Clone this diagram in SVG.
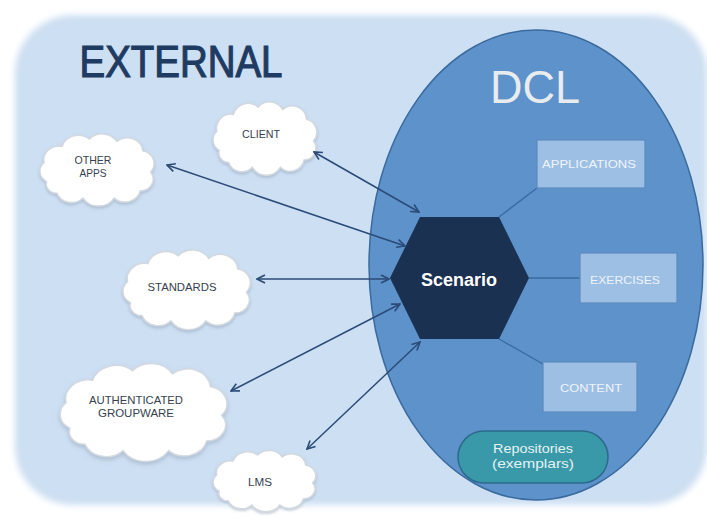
<svg xmlns="http://www.w3.org/2000/svg" width="707" height="516" viewBox="0 0 707 516">
<style>
.cloud{fill:#ffffff;stroke:#d3d9e0;stroke-width:1.5;filter:url(#sh)}
.ct{font-family:"Liberation Sans",Arial,sans-serif;font-size:11px;fill:#36424f;text-anchor:middle}
.box{fill:#9dbfe3;stroke:#5f8cc0;stroke-width:1.3}
.bt{font-family:"Liberation Sans",Arial,sans-serif;font-size:11px;fill:#eef4fb;text-anchor:middle}
.conn{stroke:#2b4b78;stroke-width:1.5;fill:none;marker-start:url(#ah);marker-end:url(#ah)}
.link{stroke:#3a6a9e;stroke-width:1.3;fill:none}
.rt{font-family:"Liberation Sans",Arial,sans-serif;font-size:13px;fill:#e3f3f4;text-anchor:middle}
</style>
<defs>
<filter id="blur" x="-5%" y="-5%" width="110%" height="110%"><feGaussianBlur stdDeviation="3"/></filter>
<filter id="sh" x="-10%" y="-10%" width="120%" height="130%"><feDropShadow dx="0" dy="1.5" stdDeviation="1.2" flood-color="#8a9bb0" flood-opacity="0.5"/></filter>
<marker id="ah" viewBox="0 0 10 10" refX="9" refY="5" markerWidth="10" markerHeight="10" markerUnits="userSpaceOnUse" orient="auto-start-reverse">
<path d="M1,1 L9,5 L1,9" fill="none" stroke="#2b4b78" stroke-width="1.6"/>
</marker>
<path id="cl" vector-effect="non-scaling-stroke" d="M12,42 A10,10 0 0 1 10,26 A12,12 0 0 1 24,12 A13,13 0 0 1 45,6 A13,13 0 0 1 66,8 A12,12 0 0 1 86,16 A11,11 0 0 1 92,34 A10,10 0 0 1 84,50 A12,12 0 0 1 64,56 A14,14 0 0 1 40,56 A12,12 0 0 1 20,52 A8,8 0 0 1 12,42 Z"/>
</defs>
<rect width="707" height="516" fill="#ffffff"/>
<rect x="15" y="15" width="692" height="490" rx="58" fill="#cddff2" filter="url(#blur)"/>
<text x="181" y="77" font-family="Liberation Sans,Arial,sans-serif" font-size="44" fill="#1f3b62" stroke="#1f3b62" stroke-width="1.2" text-anchor="middle" textLength="203" lengthAdjust="spacingAndGlyphs">EXTERNAL</text>

<g id="dcl">
<ellipse cx="536" cy="265" rx="167" ry="235" fill="#5d92cb" stroke="#3a6a9e" stroke-width="1.5"/>
<text x="535" y="103" font-family="Liberation Sans,Arial,sans-serif" font-size="46" fill="#e9ecef" text-anchor="middle" textLength="90" lengthAdjust="spacingAndGlyphs">DCL</text>
</g>

<g id="links">
<line class="link" x1="499" y1="217" x2="537" y2="188"/>
<line class="link" x1="529" y1="278" x2="580" y2="278"/>
<line class="link" x1="499" y1="339" x2="543" y2="364"/>
</g>

<g id="applications">
<rect class="box" x="537" y="140" width="108" height="48"/>
<text class="bt" x="589" y="168" textLength="94" lengthAdjust="spacingAndGlyphs">APPLICATIONS</text>
</g>
<g id="exercises">
<rect class="box" x="580" y="253" width="97" height="50"/>
<text class="bt" x="625" y="284" textLength="70" lengthAdjust="spacingAndGlyphs">EXERCISES</text>
</g>
<g id="content">
<rect class="box" x="543" y="362" width="94" height="50"/>
<text class="bt" x="591" y="392" textLength="62" lengthAdjust="spacingAndGlyphs">CONTENT</text>
</g>
<g id="repositories">
<rect x="458" y="431" width="150" height="52" rx="26" fill="#3a99a8" stroke="#2b6a8c" stroke-width="1.5"/>
<text class="rt" x="533" y="453" textLength="80" lengthAdjust="spacingAndGlyphs">Repositories</text>
<text class="rt" x="533" y="468" textLength="82" lengthAdjust="spacingAndGlyphs">(exemplars)</text>
</g>

<g id="scenario">
<polygon points="420,217 499,217 529,278 499,339 420,339 390,278" fill="#1a3152"/>
<text x="459" y="286" font-family="Liberation Sans,Arial,sans-serif" font-size="18" font-weight="bold" fill="#ffffff" text-anchor="middle">Scenario</text>
</g>

<g id="client">
<use href="#cl" class="cloud" transform="translate(205,100) scale(1.18,1.2)"/>
<text class="ct" x="261" y="138" textLength="38" lengthAdjust="spacingAndGlyphs">CLIENT</text>
</g>
<g id="other-apps">
<use href="#cl" class="cloud" transform="translate(31,132) scale(1.3,1.18)"/>
<text class="ct" x="93" y="164" textLength="37" lengthAdjust="spacingAndGlyphs">OTHER</text>
<text class="ct" x="93" y="177" textLength="27" lengthAdjust="spacingAndGlyphs">APPS</text>
</g>
<g id="standards">
<use href="#cl" class="cloud" transform="translate(113,248) scale(1.45,1.3)"/>
<text class="ct" x="182" y="291" textLength="69" lengthAdjust="spacingAndGlyphs">STANDARDS</text>
</g>
<g id="groupware">
<use href="#cl" class="cloud" transform="translate(47,361) scale(1.9,1.6)"/>
<text class="ct" x="136" y="404" textLength="94" lengthAdjust="spacingAndGlyphs">AUTHENTICATED</text>
<text class="ct" x="136" y="417" textLength="76" lengthAdjust="spacingAndGlyphs">GROUPWARE</text>
</g>
<g id="lms">
<use href="#cl" class="cloud" transform="translate(205,449) scale(1.17,1.0)"/>
<text class="ct" x="260" y="486" textLength="24" lengthAdjust="spacingAndGlyphs">LMS</text>
</g>

<g id="connectors">
<line class="conn" x1="314" y1="152" x2="419" y2="212"/>
<line class="conn" x1="167" y1="165" x2="405" y2="246"/>
<line class="conn" x1="257" y1="279" x2="389" y2="279"/>
<line class="conn" x1="231" y1="391" x2="400" y2="304"/>
<line class="conn" x1="307" y1="449" x2="420" y2="342"/>
</g>
</svg>
